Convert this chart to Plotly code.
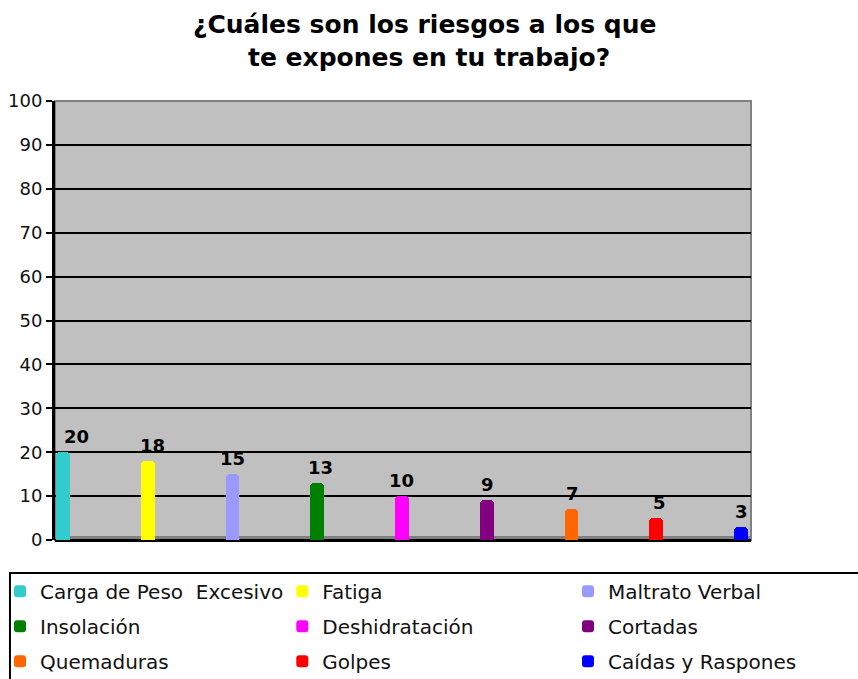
import plotly.graph_objects as go

categories = ["Carga de Peso  Excesivo", "Fatiga", "Maltrato Verbal", "Insolación",
              "Deshidratación", "Cortadas", "Quemaduras", "Golpes", "Caídas y Raspones"]
values = [20, 18, 15, 13, 10, 9, 7, 5, 3]
colors = ["#33CCCC", "#FFFF00", "#9999FF", "#008000", "#FF00FF",
          "#800080", "#FF6600", "#FF0000", "#0000FF"]
positions = list(range(len(categories)))

# style-only: horizontal nudge of value labels (px)
label_xshift = [14, 5, 0, 3, 0, 1, 1, 3, 0]

FONT = "Century Gothic, DejaVu Sans, sans-serif"
legend_ids = ["legend", "legend2", "legend3"]

fig = go.Figure()
for i, (name, v, c) in enumerate(zip(categories, values, colors)):
    fig.add_trace(go.Bar(
        x=[positions[i]], y=[v], name=name,
        marker=dict(color=c, line=dict(width=0), cornerradius=4),
        width=0.16,
        legend=legend_ids[i % 3],
        legendgroup=name,
    ))
    fig.add_annotation(
        x=positions[i], y=v, text=str(v), showarrow=False,
        xanchor="center", yanchor="bottom", xshift=label_xshift[i], yshift=3,
        font=dict(family=FONT, size=18, color="black", weight="bold"),
    )

leg_common = dict(
    orientation="v", xref="container", yref="container",
    xanchor="left", yanchor="top", y=0.158,
    borderwidth=0, bgcolor="rgba(0,0,0,0)",
    font=dict(family=FONT, size=20, color="#111111"),
    tracegroupgap=6, traceorder="grouped",
)

fig.update_layout(
    width=858, height=679,
    margin=dict(l=55, r=107, t=101, b=139, autoexpand=False),
    paper_bgcolor="white",
    plot_bgcolor="#C0C0C0",
    font=dict(family=FONT, color="black"),
    title=dict(
        text="¿Cuáles son los riesgos a los que<br> te expones en tu trabajo?",
        x=0.495, xanchor="center", y=0.951, yanchor="top",
        font=dict(family=FONT, size=25, color="black", weight="bold"),
    ),
    showlegend=True,
    legend=dict(x=0.0, **leg_common),
    legend2=dict(x=0.329, **leg_common),
    legend3=dict(x=0.662, **leg_common),
    bargap=0,
)

fig.update_xaxes(
    range=[-0.094, 8.118], showticklabels=False, showgrid=False,
    zeroline=False, showline=False, ticks="",
)
fig.update_yaxes(
    range=[0, 100], tickvals=list(range(0, 101, 10)),
    showgrid=True, gridcolor="black", gridwidth=2,
    zeroline=True, zerolinecolor="black", zerolinewidth=3,
    showline=True, linecolor="black", linewidth=3,
    ticks="outside", ticklen=6, tickwidth=2, tickcolor="black",
    tickfont=dict(family=FONT, size=18, color="#111111"),
)

# grey frame of the plot area and 3D floor band
fig.add_shape(type="rect", xref="paper", yref="paper", x0=0, x1=1, y0=0, y1=1,
              line=dict(color="#808080", width=2), layer="below")
fig.add_shape(type="rect", xref="paper", yref="y", x0=0, x1=1, y0=0, y1=0.9,
              fillcolor="#808080", line=dict(width=0), layer="below")
# legend frame (extends past the right and bottom edges, as in the original)
fig.add_shape(type="rect", xref="paper", yref="paper",
              x0=-0.0647, x1=1.25, y0=-0.36, y1=-0.0752,
              line=dict(color="black", width=2), fillcolor="rgba(0,0,0,0)")

fig.write_html("out.html", config={"displayModeBar": False},
               post_script="document.body.style.margin='0';")
